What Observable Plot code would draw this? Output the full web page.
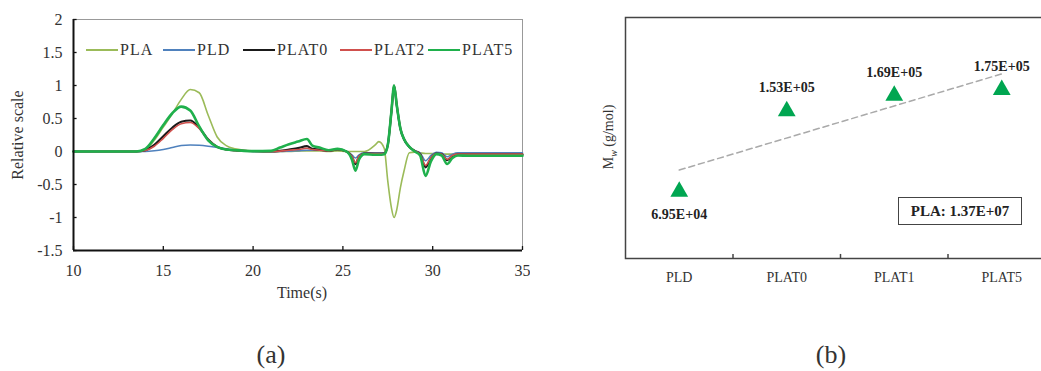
<!DOCTYPE html>
<html>
<head>
<meta charset="utf-8">
<script src="https://cdn.jsdelivr.net/npm/d3@7"></script>
<script src="https://cdn.jsdelivr.net/npm/@observablehq/plot@0.6"></script>
<style>
  html, body { margin: 0; padding: 0; background: #fff; overflow: hidden; }
  #wrap { position: relative; width: 1041px; height: 371px; overflow: hidden; background: #fff; font-family: "Liberation Serif", "Times New Roman", serif; color: #333; }
  #wrap svg { position: absolute; top: 0; max-width: none; }
  .abs { position: absolute; white-space: nowrap; }
  .rot { transform: translate(-50%, -50%) rotate(-90deg); }
  .ctr { transform: translate(-50%, -50%); }
  .leg { position: absolute; top: 41px; height: 18px; display: flex; align-items: center; font-size: 16px; letter-spacing: 1px; color: #333; }
  .leg span.sw { display: inline-block; width: 32px; margin-right: 2px; }
</style>
</head>
<body>
<div id="wrap"></div>
<script>
// ---------- Panel (a) data ----------
const timeS = [10, 13.5, 14, 14.5, 15, 15.5, 16, 16.5, 17, 17.5, 18, 18.5, 19, 19.5, 20, 21, 21.5, 22, 22.5, 23, 23.3, 23.7, 24.2, 24.7, 25.2, 25.5, 25.7, 25.9, 26.2, 26.8, 27.0, 27.3, 27.5, 27.7, 27.85, 28.0, 28.2, 28.4, 28.7, 29.0, 29.3, 29.6, 29.9, 30.2, 30.5, 30.8, 31.1, 31.4, 32, 35];
const PLA   = [0, 0, 0.03, 0.17, 0.37, 0.57, 0.79, 0.94, 0.89, 0.55, 0.22, 0.09, 0.04, 0.02, 0.01, 0, 0, 0, 0.005, 0.01, 0.01, 0.01, 0, 0.01, 0, 0, 0, 0, 0, 0.1, 0.15, 0.05, -0.45, -0.85, -1.0, -0.88, -0.55, -0.3, -0.02, -0.01, -0.02, -0.03, -0.03, -0.03, -0.035, -0.04, -0.04, -0.04, -0.04, -0.045];
const PLD   = [0, 0, 0, 0.01, 0.03, 0.06, 0.09, 0.1, 0.095, 0.08, 0.06, 0.04, 0.02, 0.01, 0, 0, 0, 0.005, 0.01, 0.02, 0.02, 0.02, 0.01, 0.035, 0, -0.05, -0.1, -0.05, -0.02, -0.02, -0.02, -0.02, 0.1, 0.58, 0.97, 0.68, 0.34, 0.18, 0.06, 0.01, -0.02, -0.14, -0.06, -0.01, -0.02, -0.08, -0.04, -0.02, -0.02, -0.02];
const PLAT0 = [0, 0, 0.02, 0.1, 0.23, 0.36, 0.45, 0.47, 0.36, 0.18, 0.07, 0.03, 0.015, 0.01, 0.005, 0, 0.01, 0.03, 0.05, 0.08, 0.04, 0.03, 0.01, 0.03, 0, -0.08, -0.19, -0.08, -0.03, -0.035, -0.035, -0.03, 0.1, 0.6, 1.0, 0.7, 0.35, 0.19, 0.07, 0.01, -0.04, -0.24, -0.1, -0.03, -0.04, -0.13, -0.07, -0.045, -0.045, -0.045];
const PLAT2 = [0, 0, 0.015, 0.08, 0.2, 0.33, 0.42, 0.44, 0.35, 0.18, 0.07, 0.03, 0.015, 0.01, 0.005, 0, 0.005, 0.02, 0.03, 0.05, 0.03, 0.02, 0.01, 0.03, 0, -0.07, -0.17, -0.07, -0.03, -0.03, -0.03, -0.03, 0.1, 0.6, 0.99, 0.7, 0.35, 0.19, 0.07, 0.01, -0.04, -0.21, -0.09, -0.03, -0.04, -0.12, -0.06, -0.04, -0.04, -0.04];
const PLAT5 = [0, 0, 0.04, 0.2, 0.4, 0.58, 0.68, 0.62, 0.38, 0.17, 0.07, 0.03, 0.02, 0.01, 0.005, 0.01, 0.06, 0.11, 0.15, 0.19, 0.09, 0.06, 0.02, 0.04, 0, -0.12, -0.29, -0.12, -0.04, -0.05, -0.05, -0.04, 0.1, 0.6, 1.0, 0.7, 0.35, 0.19, 0.07, 0, -0.06, -0.37, -0.15, -0.04, -0.06, -0.19, -0.1, -0.06, -0.065, -0.065];
const seriesNames = ["PLA", "PLD", "PLAT0", "PLAT2", "PLAT5"];
const seriesValues = [PLA, PLD, PLAT0, PLAT2, PLAT5];
const xTicksA = [10, 15, 20, 25, 30, 35];
const yTicksA = [-1.5, -1, -0.5, 0, 0.5, 1, 1.5, 2];

// ---------- Panel (b) data ----------
const catsB = ["PLD", "PLAT0", "PLAT1", "PLAT5"];
const mwB = [69500, 153000, 169000, 175000];
const mwLabels = ["6.95E+04", "1.53E+05", "1.69E+05", "1.75E+05"];
const plaNote = "PLA: 1.37E+07";

// ---------- styles ----------
const colorsA = ["#9bbb59", "#4f81bd", "#1a1a1a", "#d0504d", "#1fb04c"];
const widthsA = [1.6, 1.5, 2.2, 1.6, 2.6];
const serif = "'Liberation Serif', 'Times New Roman', serif";

const wrap = document.getElementById("wrap");

// ---------- Panel (a) ----------
const lineMarks = seriesNames.map((name, k) => {
  const rows = timeS.map((t, i) => ({t, v: seriesValues[k][i]}));
  return Plot.line(rows, {x: "t", y: "v", stroke: colorsA[k], strokeWidth: widthsA[k], curve: "monotone-x"});
});

const chartA = Plot.plot({
  width: 530, height: 310,
  marginLeft: 73, marginRight: 8, marginTop: 19, marginBottom: 60,
  style: {fontFamily: serif, fontSize: "16px", color: "#333", background: "transparent", maxWidth: "none"},
  x: {domain: [10, 35], ticks: xTicksA, tickSize: 0, tickPadding: 14, label: null, tickFormat: d => String(d)},
  y: {domain: [-1.5, 2], ticks: yTicksA, tickSize: 0, tickPadding: 11, label: null, tickFormat: d => String(d)},
  marks: [
    Plot.ruleY([2], {stroke: "#999", strokeWidth: 1}),
    Plot.ruleX([35], {stroke: "#999", strokeWidth: 1}),
    Plot.ruleY(yTicksA, {x1: 10, x2: 10.2, stroke: "#111", strokeWidth: 1.3}),
    Plot.ruleX(xTicksA, {y1: -1.5, y2: -1.44, stroke: "#111", strokeWidth: 1.3}),
    ...lineMarks,
    Plot.ruleX([10], {stroke: "#111", strokeWidth: 2}),
    Plot.ruleY([-1.5], {stroke: "#111", strokeWidth: 2})
  ]
});
chartA.style.left = "0px";
wrap.appendChild(chartA);

// legend (a)
const legLeft = [86, 163, 243, 340, 428];
seriesNames.forEach((name, k) => {
  const d = document.createElement("div");
  d.className = "leg";
  d.style.left = legLeft[k] + "px";
  d.innerHTML = `<span class="sw" style="height:${Math.max(1.5, widthsA[k] - 0.4)}px;background:${colorsA[k]}"></span><span>${name}</span>`;
  wrap.appendChild(d);
});

// ---------- Panel (b) ----------
const dataB = catsB.map((c, i) => ({i: i + 1, cat: c, mw: mwB[i], label: mwLabels[i]}));
const chartB = Plot.plot({
  width: 540, height: 310,
  marginLeft: 105, marginRight: 5, marginTop: 17, marginBottom: 52,
  style: {fontFamily: serif, fontSize: "14px", color: "#333", background: "transparent", maxWidth: "none"},
  x: {domain: [0.5, 4.5], ticks: [1, 2, 3, 4], tickFormat: i => catsB[i - 1], tickSize: 0, tickPadding: 14, label: null},
  y: {domain: [0, 250000], axis: null},
  marks: [
    Plot.frame({stroke: "#444", strokeWidth: 1.5}),
    Plot.ruleX([1.5, 2.5, 3.5], {y1: 0, y2: 4200, stroke: "#444", strokeWidth: 1.5}),
    Plot.linearRegressionY(dataB, {x: "i", y: "mw", stroke: "#aaa", strokeWidth: 1.5, strokeDasharray: "6,4", ci: 0}),
    Plot.dot(dataB, {x: "i", y: "mw", symbol: "triangle", r: 6.6, fill: "#00a651", stroke: "none"}),
    Plot.text(dataB.filter(d => d.i === 1), {x: "i", y: "mw", text: "label", dy: 23, fontWeight: "bold", fontSize: 14, fill: "#222"}),
    Plot.text(dataB.filter(d => d.i !== 1), {x: "i", y: "mw", text: "label", dy: -23, fontWeight: "bold", fontSize: 14, fill: "#222"})
  ]
});
chartB.style.left = "520px";
wrap.appendChild(chartB);

// note box (b)
const note = document.createElement("div");
note.className = "abs";
note.style.cssText = "left:898px;top:197px;width:122px;height:26px;border:1.5px solid #444;font-weight:bold;font-size:15px;color:#222;display:flex;align-items:center;justify-content:center;";
note.textContent = plaNote;
wrap.appendChild(note);

// axis titles and captions
function addText(html, x, y, cls, size) {
  const d = document.createElement("div");
  d.className = "abs " + cls;
  d.style.left = x + "px";
  d.style.top = y + "px";
  d.style.fontSize = size + "px";
  d.innerHTML = html;
  wrap.appendChild(d);
}
addText("Relative scale", 18, 135, "rot", 16);
addText("Time(s)", 302, 293, "ctr", 16);
addText("M<sub style='font-style:italic;font-size:10px'>w</sub> (g/mol)", 610, 137, "rot", 14);
addText("(a)", 271, 355, "ctr", 26);
addText("(b)", 831, 355, "ctr", 26);
</script>
</body>
</html>
